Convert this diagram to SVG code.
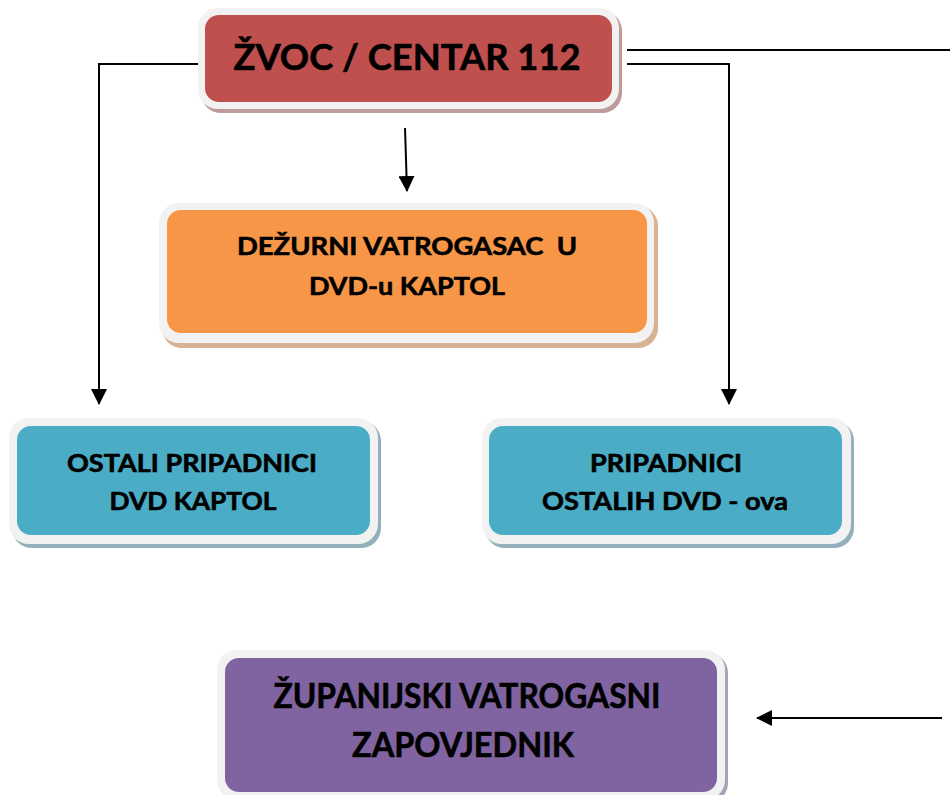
<svg xmlns="http://www.w3.org/2000/svg" width="950" height="795" viewBox="0 0 950 795">
<defs>
<style>
.frame{fill:#F2F2F2;}
.lbl{font-family:Lato,"Open Sans","Liberation Sans",sans-serif;font-weight:bold;fill:#000;stroke:#000;stroke-width:0.6;text-anchor:middle;white-space:pre;}
.conn{fill:none;stroke:#000;stroke-width:2;}
</style>
<marker id="arr" markerUnits="userSpaceOnUse" markerWidth="16" markerHeight="16" refX="15" refY="8" orient="auto">
<path d="M0,0 L16,8 L0,16 z" fill="#000"/>
</marker>
</defs>
<rect width="950" height="795" fill="#fff"/>

<g id="connectors">
<path class="conn" d="M200,64 H99 V404" marker-end="url(#arr)"/>
<path class="conn" d="M405,128 L407,191" marker-end="url(#arr)"/>
<path class="conn" d="M627,50 H950"/>
<path class="conn" d="M627,64 H729 V404" marker-end="url(#arr)"/>
<path class="conn" d="M942,718 H757" marker-end="url(#arr)"/>
</g>

<g id="zvoc">
<rect x="201" y="11" width="421" height="102" rx="20" fill="#BE9A99"/>
<rect class="frame" x="198" y="8" width="421" height="101" rx="20"/>
<rect x="205" y="15" width="407" height="87" rx="14" fill="#C0504D"/>
<text class="lbl" x="407" y="70" font-size="37" textLength="347" lengthAdjust="spacingAndGlyphs">ŽVOC / CENTAR 112</text>
</g>

<g id="dezurni">
<rect x="162" y="206" width="496" height="142" rx="20" fill="#D7B394"/>
<rect class="frame" x="159" y="203" width="495" height="140" rx="20"/>
<rect x="167" y="210" width="480" height="123" rx="14" fill="#F79646"/>
<text class="lbl" x="407" y="255" font-size="25" textLength="340" lengthAdjust="spacingAndGlyphs">DEŽURNI VATROGASAC  U</text>
<text class="lbl" x="407" y="295" font-size="25" textLength="196" lengthAdjust="spacingAndGlyphs">DVD-u KAPTOL</text>
</g>

<g id="ostali-kaptol">
<rect x="12" y="421" width="369" height="127" rx="20" fill="#93B1BC"/>
<rect class="frame" x="9" y="418" width="369" height="126" rx="20"/>
<rect x="17" y="426" width="353" height="109" rx="14" fill="#4BACC6"/>
<text class="lbl" x="192" y="472" font-size="25" textLength="250" lengthAdjust="spacingAndGlyphs">OSTALI PRIPADNICI</text>
<text class="lbl" x="193" y="510" font-size="25" textLength="167" lengthAdjust="spacingAndGlyphs">DVD KAPTOL</text>
</g>

<g id="ostali-dvd">
<rect x="485" y="421" width="369" height="127" rx="20" fill="#93B1BC"/>
<rect class="frame" x="482" y="418" width="369" height="126" rx="20"/>
<rect x="489" y="426" width="353" height="109" rx="14" fill="#4BACC6"/>
<text class="lbl" x="666" y="472" font-size="25" textLength="152" lengthAdjust="spacingAndGlyphs">PRIPADNICI</text>
<text class="lbl" x="665" y="510" font-size="25" textLength="246" lengthAdjust="spacingAndGlyphs">OSTALIH DVD - ova</text>
</g>

<g id="zupanijski">
<rect x="220" y="653" width="508" height="150" rx="20" fill="#A9A2B6"/>
<rect class="frame" x="217" y="650" width="508" height="150" rx="20"/>
<rect x="225" y="658" width="492" height="134" rx="14" fill="#8064A2"/>
<text class="lbl" x="467" y="708" font-size="34" textLength="387" lengthAdjust="spacingAndGlyphs">ŽUPANIJSKI VATROGASNI</text>
<text class="lbl" x="463" y="757" font-size="34" textLength="222" lengthAdjust="spacingAndGlyphs">ZAPOVJEDNIK</text>
</g>
</svg>
